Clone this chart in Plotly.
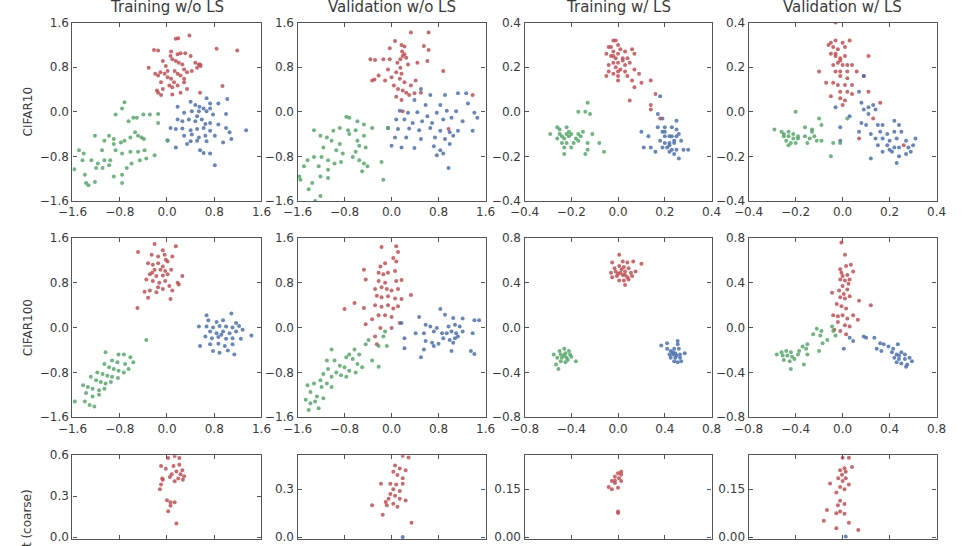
import plotly.graph_objects as go

RED, BLUE, GREEN = "#C44E52", "#4C72B0", "#55A868"

col_titles = ["Training w/o LS", "Validation w/o LS", "Training w/ LS", "Validation w/ LS"]
row_labels = ["CIFAR10", "CIFAR100", "ImageNet (coarse)"]

ticks_16 = [-1.6, -0.8, 0.0, 0.8, 1.6]
ticks_04 = [-0.4, -0.2, 0.0, 0.2, 0.4]
ticks_08 = [-0.8, -0.4, 0.0, 0.4, 0.8]
ticks_r3a = [0.0, 0.3, 0.6]
ticks_r3b = [0.0, 0.15, 0.30]
ticks_r3x = [-0.3, -0.15, 0.0, 0.15, 0.3]

# ---------------- Row 1: CIFAR10 ----------------
p1_red = [(0.15,1.31),(0.19,1.32),(0.38,1.37),(-0.22,1.11),(-0.15,1.10),(0.84,1.13),(1.19,1.10),(-0.31,0.79),
          (0.07,1.08),(0.18,1.03),(0.23,1.05),(0.31,1.05),(0.40,1.00),(0.48,0.88),(0.54,0.85),(0.57,0.82),
          (0.06,1.00),(0.09,0.94),(0.15,0.91),(0.20,0.88),(0.26,0.85),(-0.07,0.91),(-0.02,0.82),(-0.11,0.71),
          (-0.15,0.65),(-0.20,0.68),(-0.04,0.68),(0.01,0.62),(0.07,0.59),(0.12,0.53),(0.18,0.47),(0.23,0.65),
          (0.29,0.59),(0.34,0.71),(0.42,0.73),(0.51,0.79),(0.56,0.85),(0.04,0.47),(0.09,0.44),(-0.10,0.53),
          (-0.07,0.41),(-0.17,0.38),(-0.15,0.34),(-0.10,0.30),(0.09,0.31),(0.23,0.34),(0.56,0.34),(0.94,0.46),
          (0.29,0.53),(0.34,0.41),(0.18,0.68),(0.13,0.73),(0.29,0.76),(0.01,0.73)]
p1_blue = [(0.67,0.24),(0.73,0.15),(0.87,0.15),(1.02,0.23),(0.40,0.18),(0.48,0.12),(0.55,0.09),(0.62,0.06),
           (0.18,0.09),(0.29,-0.02),(0.42,0.01),(0.54,0.01),(0.67,0.01),(0.78,-0.05),(1.00,-0.04),(0.18,-0.14),
           (0.26,-0.17),(0.37,-0.14),(0.48,-0.17),(0.59,-0.14),(0.73,-0.20),(0.87,-0.23),(0.06,-0.29),(0.15,-0.31),
           (0.26,-0.30),(0.40,-0.33),(0.51,-0.31),(0.62,-0.29),(0.73,-0.34),(1.00,-0.29),(1.34,-0.33),(0.29,-0.43),
           (0.42,-0.41),(0.54,-0.46),(0.65,-0.43),(0.81,-0.43),(1.06,-0.37),(1.09,-0.49),(0.01,-0.51),(0.40,-0.53),
           (0.51,-0.52),(0.67,-0.53),(0.15,-0.64),(0.34,-0.58),(0.56,-0.69),(0.62,-0.74),(0.73,-0.75),(0.81,-0.96),
           (0.95,-0.55),(0.73,0.06),(0.51,-0.08),(0.65,-0.22)]
p1_green = [(-0.72,0.17),(-0.76,0.06),(-0.87,-0.05),(-0.65,-0.17),(-0.57,-0.11),(-0.51,-0.11),(-0.40,-0.05),(-0.29,-0.05),
            (-0.15,-0.04),(-0.15,-0.20),(0.01,-0.52),(-0.54,-0.37),(-0.49,-0.43),(-0.43,-0.46),(-0.39,-0.49),(-0.62,-0.46),
            (-0.72,-0.52),(-0.78,-0.55),(-0.90,-0.49),(-0.98,-0.43),(-1.06,-0.52),(-1.22,-0.43),(-0.87,-0.69),(-0.76,-0.75),
            (-0.62,-0.72),(-0.49,-0.72),(-0.38,-0.69),(-0.21,-0.78),(-0.35,-0.84),(-0.46,-0.87),(-0.60,-0.93),(-0.68,-1.01),
            (-0.76,-1.13),(-0.90,-1.16),(-0.76,-1.28),(-0.96,-0.87),(-1.06,-0.87),(-1.17,-0.93),(-1.28,-0.87),(-1.20,-1.01),
            (-1.09,-1.01),(-0.98,-0.96),(-1.41,-0.75),(-1.49,-0.69),(-1.43,-0.87),(-1.57,-1.03),(-1.39,-1.13),(-1.37,-1.28),
            (-1.33,-1.32),(-1.22,-1.26),(-1.10,-0.69),(-0.90,-0.58)]

p2_red = [(0.06,1.27),(0.33,1.42),(0.63,1.42),(0.55,1.18),(0.63,1.11),(-0.03,1.14),(0.17,1.20),(0.22,1.17),
          (-0.36,0.94),(-0.28,0.93),(-0.14,0.94),(-0.03,0.94),(0.19,1.00),(0.22,1.03),(0.25,0.97),(0.15,0.94),
          (0.10,0.88),(0.28,0.85),(0.44,0.88),(0.61,0.91),(0.88,0.73),(-0.06,0.76),(0.08,0.71),(0.17,0.68),
          (-0.22,0.65),(-0.29,0.58),(-0.33,0.56),(-0.11,0.56),(0.00,0.62),(0.14,0.59),(0.22,0.53),(0.41,0.56),
          (0.33,0.47),(0.11,0.41),(0.19,0.38),(0.25,0.34),(0.39,0.33),(0.50,0.34),(0.08,0.27),(0.17,0.21),
          (0.30,0.30),(0.04,0.47),(1.38,0.30),(0.97,-0.31),(0.19,0.01),(0.15,0.79),(0.18,1.08)]
p2_blue = [(0.50,0.41),(0.66,0.30),(0.91,0.30),(1.13,0.33),(1.27,0.33),(0.39,0.21),(0.58,0.12),(0.83,0.12),
           (1.30,0.15),(0.14,0.02),(0.28,-0.02),(0.44,-0.01),(0.61,-0.08),(0.77,-0.02),(0.94,0.02),(1.10,0.01),
           (1.41,-0.02),(1.46,-0.11),(0.08,-0.14),(0.22,-0.14),(0.36,-0.20),(0.52,-0.17),(0.69,-0.20),(0.88,-0.14),
           (1.02,-0.11),(1.21,-0.17),(-0.06,-0.29),(0.11,-0.31),(0.30,-0.30),(0.47,-0.33),(0.66,-0.29),(0.83,-0.34),
           (0.99,-0.37),(1.13,-0.34),(1.38,-0.34),(0.06,-0.46),(0.25,-0.46),(0.50,-0.49),(0.74,-0.46),(0.91,-0.49),
           (1.05,-0.43),(0.00,-0.61),(0.17,-0.64),(0.39,-0.65),(0.72,-0.62),(0.83,-0.69),(0.88,-0.75),(0.97,-1.01),
           (0.77,-0.78),(0.99,-0.58)]
p2_green = [(-0.77,-0.09),(-0.72,-0.11),(-0.58,-0.17),(-0.88,-0.29),(-0.74,-0.33),(-0.61,-0.33),(-0.47,-0.23),(-0.33,-0.29),
            (-0.06,-0.29),(-0.72,-0.40),(-0.99,-0.34),(-1.10,-0.46),(-1.21,-0.43),(-1.32,-0.33),(-1.02,-0.52),(-0.88,-0.58),
            (-0.58,-0.52),(-0.47,-0.43),(-0.55,-0.61),(-0.44,-0.64),(-1.16,-0.64),(-0.94,-0.69),(-0.83,-0.75),(-0.66,-0.81),
            (-0.55,-0.87),(-0.47,-0.93),(-0.41,-0.98),(-0.50,-1.07),(-0.17,-0.90),(-0.14,-1.22),(-1.43,-0.87),(-1.32,-0.81),
            (-1.19,-0.81),(-1.08,-0.87),(-0.97,-0.93),(-1.49,-0.98),(-1.24,-0.98),(-1.08,-1.04),(-1.21,-1.16),(-1.08,-1.19),
            (-1.55,-1.22),(-1.35,-1.28),(-1.41,-1.39),(-1.21,-1.51),(-1.30,-1.60),(-1.57,-1.16),(-0.86,-0.90),(-0.61,-0.72)]

p3_red = [(-0.02,0.32),(-0.01,0.32),(-0.04,0.29),(-0.03,0.29),(0.00,0.30),(0.01,0.28),(0.03,0.27),(0.06,0.28),
          (0.07,0.26),(-0.05,0.26),(-0.03,0.25),(-0.02,0.25),(0.00,0.26),(0.02,0.24),(0.04,0.24),(-0.01,0.24),
          (-0.02,0.22),(0.00,0.22),(0.03,0.21),(0.05,0.22),(-0.04,0.21),(-0.04,0.18),(-0.01,0.20),(0.01,0.19),
          (0.03,0.18),(0.07,0.19),(0.09,0.17),(-0.05,0.16),(-0.02,0.17),(0.00,0.16),(0.04,0.16),(0.06,0.14),
          (0.00,0.14),(0.10,0.13),(0.07,0.11),(0.14,0.14),(0.16,0.08),(0.14,0.03),(0.14,0.01),(0.18,-0.03),
          (0.05,0.05),(-0.02,0.27),(0.02,0.23),(0.00,0.18)]
p3_blue = [(0.18,0.07),(0.17,-0.01),(0.19,-0.03),(0.10,-0.09),(0.13,-0.11),(0.11,-0.16),(0.14,-0.16),(0.16,-0.18),
           (0.17,-0.07),(0.19,-0.09),(0.20,-0.07),(0.23,-0.07),(0.25,-0.08),(0.25,-0.04),(0.20,-0.11),(0.22,-0.11),
           (0.23,-0.11),(0.25,-0.11),(0.18,-0.13),(0.20,-0.14),(0.22,-0.14),(0.24,-0.14),(0.27,-0.13),(0.21,-0.16),
           (0.23,-0.17),(0.25,-0.17),(0.28,-0.17),(0.30,-0.17),(0.24,-0.19),(0.26,-0.21),(0.22,-0.18),(0.20,-0.09),
           (0.24,-0.13),(0.22,-0.15),(0.19,-0.16),(0.26,-0.10)]
p3_green = [(-0.13,0.04),(-0.17,0.00),(-0.14,0.00),(-0.12,-0.01),(-0.29,-0.10),(-0.26,-0.07),(-0.25,-0.08),(-0.22,-0.07),
            (-0.21,-0.09),(-0.25,-0.10),(-0.24,-0.11),(-0.22,-0.10),(-0.20,-0.10),(-0.17,-0.10),(-0.15,-0.09),(-0.26,-0.12),
            (-0.23,-0.12),(-0.21,-0.11),(-0.18,-0.12),(-0.24,-0.14),(-0.22,-0.14),(-0.19,-0.14),(-0.17,-0.13),(-0.23,-0.16),
            (-0.20,-0.16),(-0.23,-0.19),(-0.11,-0.10),(-0.13,-0.14),(-0.14,-0.19),(-0.13,-0.17),(-0.08,-0.14),(-0.06,-0.18),
            (-0.16,-0.11)]

p4_red = [(-0.03,0.40),(-0.06,0.30),(-0.05,0.31),(-0.03,0.32),(0.00,0.31),(0.03,0.32),(-0.04,0.29),(-0.02,0.28),
          (0.01,0.29),(-0.05,0.26),(-0.03,0.25),(-0.01,0.24),(0.01,0.25),(0.11,0.25),(-0.02,0.22),(0.00,0.21),
          (0.02,0.21),(0.04,0.21),(-0.04,0.21),(-0.10,0.18),(-0.03,0.18),(-0.01,0.18),(0.02,0.18),(0.06,0.18),
          (0.09,0.16),(-0.01,0.16),(0.02,0.15),(-0.07,0.13),(-0.04,0.13),(-0.02,0.12),(0.01,0.12),(0.04,0.12),
          (-0.01,0.09),(0.02,0.09),(0.11,0.09),(-0.05,0.07),(-0.01,0.06),(0.01,0.05),(0.04,0.08),(0.00,0.03),
          (0.13,-0.03),(0.16,0.04),(0.07,-0.12),(0.26,-0.15),(-0.03,0.26),(-0.01,0.23)]
p4_blue = [(0.09,0.16),(0.07,0.09),(0.08,0.04),(-0.03,0.02),(0.03,-0.02),(0.09,0.01),(0.11,0.02),(0.13,0.03),
           (0.11,-0.01),(0.14,0.01),(-0.01,-0.07),(-0.01,-0.13),(0.08,-0.05),(0.10,-0.06),(0.07,-0.09),(0.15,-0.06),
           (0.17,-0.06),(0.22,-0.04),(0.24,-0.06),(0.12,-0.10),(0.16,-0.09),(0.19,-0.10),(0.22,-0.09),(0.25,-0.09),
           (0.14,-0.12),(0.17,-0.12),(0.20,-0.13),(0.23,-0.12),(0.27,-0.13),(0.31,-0.12),(0.15,-0.15),(0.19,-0.15),
           (0.22,-0.16),(0.24,-0.16),(0.28,-0.16),(0.30,-0.15),(0.17,-0.18),(0.21,-0.18),(0.27,-0.19),(0.29,-0.18),
           (0.12,-0.21),(0.23,-0.23),(0.24,-0.20),(0.20,-0.17)]
p4_green = [(-0.20,0.00),(-0.10,-0.03),(-0.09,-0.06),(-0.16,-0.07),(-0.13,-0.08),(-0.29,-0.08),(-0.26,-0.09),(-0.25,-0.10),
            (-0.23,-0.09),(-0.21,-0.10),(-0.19,-0.11),(-0.25,-0.11),(-0.23,-0.11),(-0.21,-0.12),(-0.19,-0.12),(-0.16,-0.11),
            (-0.14,-0.12),(-0.12,-0.11),(-0.09,-0.13),(-0.24,-0.13),(-0.22,-0.14),(-0.20,-0.14),(-0.15,-0.14),(-0.11,-0.13),
            (-0.23,-0.15),(-0.04,-0.14),(-0.01,-0.14),(-0.05,-0.20),(0.02,-0.03),(-0.13,-0.09)]

# ---------------- Row 2: CIFAR100 ----------------
p5_red = [(-0.21,1.49),(0.15,1.45),(-0.49,1.35),(-0.07,1.38),(-0.26,1.30),(-0.15,1.27),(-0.04,1.30),(0.09,1.27),
          (-0.32,1.15),(-0.24,1.12),(-0.15,1.15),(-0.07,1.09),(0.01,1.18),(-0.21,1.03),(-0.11,1.03),(-0.03,1.01),
          (0.07,1.03),(-0.29,0.95),(-0.18,0.92),(-0.07,0.93),(0.01,0.95),(0.26,0.92),(-0.35,0.86),(-0.24,0.83),
          (-0.13,0.80),(-0.03,0.83),(0.18,0.80),(0.20,0.77),(-0.15,0.72),(-0.07,0.69),(0.04,0.74),(-0.38,0.64),
          (-0.29,0.66),(-0.18,0.63),(0.06,0.51),(-0.32,0.53),(-0.50,0.35),(-0.02,1.21),(-0.25,0.98),(0.09,0.66)]
p5_blue = [(0.67,0.22),(1.09,0.25),(0.70,0.13),(0.84,0.10),(0.95,0.13),(1.17,0.08),(0.54,0.02),(0.67,0.02),
           (0.78,0.00),(0.89,0.03),(1.00,0.02),(1.11,0.00),(1.22,0.03),(1.28,-0.04),(0.73,-0.07),(0.84,-0.10),
           (0.95,-0.07),(1.06,-0.10),(1.17,-0.07),(1.43,-0.14),(0.65,-0.16),(0.76,-0.19),(0.87,-0.17),(1.00,-0.20),
           (1.11,-0.19),(1.25,-0.20),(0.56,-0.33),(0.73,-0.30),(0.87,-0.29),(0.98,-0.33),(1.11,-0.30),(0.78,-0.42),
           (0.89,-0.45),(1.14,-0.48),(1.03,-0.41),(0.92,-0.13)]
p5_green = [(-0.35,-0.22),(-1.04,-0.44),(-0.82,-0.48),(-0.73,-0.48),(-0.62,-0.53),(-0.57,-0.62),(-0.93,-0.59),(-0.84,-0.62),
            (-0.71,-0.65),(-1.06,-0.65),(-0.98,-0.71),(-0.90,-0.74),(-0.82,-0.77),(-0.73,-0.80),(-0.65,-0.74),(-1.18,-0.80),
            (-1.09,-0.83),(-1.01,-0.86),(-0.93,-0.88),(-0.83,-0.90),(-1.29,-0.88),(-1.20,-0.94),(-1.12,-0.97),(-1.04,-1.00),
            (-0.95,-0.97),(-1.42,-1.03),(-1.34,-1.06),(-1.26,-1.09),(-1.15,-1.12),(-1.06,-1.09),(-1.37,-1.17),(-1.26,-1.23),
            (-1.15,-1.20),(-1.39,-1.32),(-1.31,-1.38),(-1.56,-1.32),(-1.23,-1.41)]

p6_red = [(-0.17,1.44),(0.08,1.45),(0.11,1.35),(-0.47,1.03),(-0.19,1.09),(-0.11,1.15),(0.03,1.24),(0.08,1.18),
          (-0.22,0.98),(-0.14,0.95),(-0.06,0.98),(0.06,1.01),(-0.44,0.86),(-0.22,0.83),(-0.11,0.80),(0.08,0.83),
          (0.17,0.85),(-0.28,0.69),(-0.17,0.72),(-0.08,0.69),(0.00,0.66),(0.11,0.69),(0.33,0.58),(-0.25,0.57),
          (-0.17,0.54),(-0.06,0.56),(0.06,0.52),(0.17,0.51),(-0.63,0.44),(-0.47,0.35),(-0.28,0.40),(-0.17,0.37),
          (-0.06,0.40),(0.03,0.34),(0.11,0.38),(-0.80,0.33),(-0.22,0.22),(-0.11,0.22),(0.00,0.19),(-0.44,0.06),
          (-0.19,-0.01),(0.00,-0.01),(0.14,0.08),(-0.28,-0.16),(-0.25,-0.30),(-0.33,0.15)]
p6_blue = [(0.83,0.33),(0.47,0.19),(0.91,0.23),(1.05,0.17),(1.21,0.16),(1.41,0.13),(1.49,0.13),(0.58,0.05),
           (0.66,0.02),(0.77,-0.01),(0.97,0.02),(1.08,0.05),(1.16,0.02),(0.41,-0.10),(0.55,-0.10),(0.72,-0.07),
           (0.86,-0.10),(0.94,-0.10),(1.02,-0.07),(1.10,-0.10),(1.21,-0.07),(1.38,-0.10),(0.17,0.08),(0.22,-0.19),
           (0.88,-0.19),(0.99,-0.22),(1.08,-0.19),(0.58,-0.24),(0.69,-0.27),(0.80,-0.29),(1.05,-0.27),(0.22,-0.37),
           (0.55,-0.39),(0.72,-0.33),(0.50,-0.53),(1.35,-0.42),(1.41,-0.47),(1.02,-0.42),(1.13,-0.16)]
p6_green = [(-0.11,-0.07),(-0.14,-0.16),(-0.22,-0.33),(-0.08,-0.33),(-0.39,-0.22),(-0.44,-0.30),(-0.33,-0.59),(-0.22,-0.70),
            (-0.63,-0.39),(-0.72,-0.48),(-0.55,-0.48),(-1.02,-0.39),(-0.77,-0.53),(-0.66,-0.56),(-0.58,-0.65),(-0.50,-0.71),
            (-0.97,-0.59),(-0.88,-0.68),(-0.80,-0.71),(-0.72,-0.77),(-0.61,-0.80),(-1.08,-0.74),(-0.94,-0.80),(-0.86,-0.85),
            (-0.77,-0.88),(-1.16,-0.83),(-1.02,-0.88),(-1.21,-0.94),(-1.10,-1.00),(-1.02,-1.06),(-1.32,-1.00),(-1.19,-1.06),
            (-1.43,-1.03),(-1.38,-1.15),(-1.27,-1.23),(-1.16,-1.26),(-1.46,-1.29),(-1.38,-1.35),(-1.30,-1.32),(-1.41,-1.47),
            (-1.24,-1.44),(-1.10,-0.59)]

p7_red = [(0.01,0.65),(-0.05,0.58),(0.04,0.59),(0.08,0.58),(0.13,0.59),(0.20,0.57),(-0.03,0.53),(0.01,0.55),
          (0.05,0.54),(0.09,0.53),(-0.06,0.49),(-0.02,0.50),(0.02,0.49),(0.06,0.50),(0.11,0.49),(0.15,0.50),
          (-0.05,0.45),(-0.01,0.46),(0.04,0.47),(0.08,0.45),(0.12,0.46),(0.01,0.42),(0.05,0.42),(0.09,0.43),
          (0.06,0.38),(0.03,0.52),(0.00,0.48),(0.06,0.47)]
p7_blue = [(0.37,-0.16),(0.42,-0.14),(0.51,-0.12),(0.51,-0.15),(0.42,-0.19),(0.45,-0.21),(0.48,-0.19),(0.52,-0.19),
           (0.44,-0.24),(0.47,-0.24),(0.49,-0.23),(0.53,-0.24),(0.57,-0.23),(0.45,-0.27),(0.49,-0.27),(0.53,-0.27),
           (0.48,-0.30),(0.51,-0.31),(0.54,-0.30),(0.47,-0.22),(0.50,-0.25)]
p7_green = [(-0.55,-0.24),(-0.50,-0.21),(-0.46,-0.19),(-0.42,-0.21),(-0.49,-0.24),(-0.45,-0.23),(-0.41,-0.24),(-0.52,-0.27),
            (-0.48,-0.27),(-0.44,-0.27),(-0.40,-0.26),(-0.49,-0.30),(-0.45,-0.31),(-0.36,-0.30),(-0.51,-0.37),(-0.46,-0.25),
            (-0.43,-0.29),(-0.53,-0.33)]

p8_red = [(-0.01,0.76),(0.02,0.65),(-0.02,0.52),(0.03,0.55),(0.07,0.56),(-0.01,0.49),(0.04,0.47),(0.09,0.50),
          (-0.02,0.43),(0.02,0.42),(0.06,0.43),(0.00,0.37),(0.04,0.34),(-0.03,0.33),(-0.09,0.31),(-0.02,0.27),
          (0.02,0.26),(0.06,0.28),(0.14,0.24),(0.24,0.20),(-0.05,0.21),(-0.01,0.19),(0.03,0.17),(-0.08,0.11),
          (-0.04,0.10),(0.00,0.11),(0.04,0.08),(0.09,0.11),(0.13,0.07),(-0.04,0.05),(0.02,0.02),(0.06,0.01),
          (-0.02,-0.03),(0.03,-0.06),(-0.07,-0.02),(0.00,0.46),(0.05,0.39),(0.01,0.30)]
p8_blue = [(0.06,-0.09),(0.09,-0.12),(0.01,-0.19),(0.18,-0.08),(0.27,-0.09),(0.20,-0.09),(0.32,-0.14),(0.35,-0.15),
           (0.39,-0.17),(0.29,-0.19),(0.43,-0.19),(0.47,-0.15),(0.42,-0.22),(0.46,-0.24),(0.50,-0.22),(0.53,-0.24),
           (0.44,-0.27),(0.48,-0.28),(0.53,-0.28),(0.57,-0.27),(0.46,-0.31),(0.50,-0.32),(0.55,-0.33),(0.59,-0.30),
           (0.54,-0.35),(0.33,-0.21),(0.48,-0.25)]
p8_green = [(-0.22,-0.01),(-0.18,-0.03),(-0.25,-0.06),(-0.19,-0.07),(-0.09,0.01),(-0.08,-0.03),(-0.06,-0.07),(-0.13,-0.11),
            (-0.17,-0.14),(-0.20,-0.21),(-0.30,-0.15),(-0.34,-0.17),(-0.31,-0.19),(-0.37,-0.21),(-0.56,-0.24),(-0.52,-0.22),
            (-0.48,-0.21),(-0.44,-0.22),(-0.51,-0.25),(-0.47,-0.25),(-0.43,-0.26),(-0.38,-0.24),(-0.50,-0.29),(-0.45,-0.30),
            (-0.41,-0.28),(-0.33,-0.33),(-0.44,-0.37),(-0.30,-0.24)]

# ---------------- Row 3: ImageNet (coarse), partly visible ----------------
p9_red = [(0.13,0.595),(0.21,0.58),(0.02,0.58),(-0.10,0.52),(-0.02,0.50),(0.11,0.52),(0.16,0.48),(0.26,0.49),
          (0.23,0.46),(0.08,0.46),(0.29,0.445),(0.19,0.43),(0.05,0.44),(0.13,0.41),(0.27,0.42),(-0.08,0.43),
          (-0.07,0.42),(-0.10,0.385),(-0.12,0.35),(0.00,0.27),(0.06,0.255),(0.13,0.255),(0.06,0.23),(0.02,0.19),
          (0.16,0.10),(0.21,0.53)]
p9_blue = []
p9_green = []
p10_red = [(0.19,0.51),(0.29,0.50),(0.06,0.45),(0.14,0.43),(0.03,0.41),(0.24,0.42),(0.10,0.39),(0.19,0.37),
           (-0.02,0.335),(-0.18,0.335),(0.08,0.33),(0.19,0.335),(0.03,0.30),(0.14,0.29),(-0.02,0.27),(0.06,0.26),
           (-0.05,0.24),(0.14,0.24),(-0.10,0.22),(0.03,0.21),(0.24,0.23),(-0.33,0.20),(-0.08,0.20),(0.10,0.19),
           (-0.15,0.14),(0.34,0.09)]
p10_blue = [(0.19,0.0)]
p10_green = []
p11_red = [(0.00,0.20),(0.01,0.196),(-0.01,0.19),(0.003,0.185),(-0.01,0.178),(0.01,0.176),(-0.02,0.176),(-0.01,0.17),
           (-0.03,0.157),(0.00,0.155),(-0.02,0.15),(0.00,0.08),(0.00,0.076),(0.01,0.205)]
p11_blue = []
p11_green = []
p12_red = [(0.00,0.249),(0.02,0.249),(0.03,0.22),(0.006,0.216),(-0.008,0.21),(0.01,0.205),(-0.002,0.196),(-0.014,0.185),
           (0.01,0.185),(0.00,0.176),(-0.04,0.168),(0.02,0.165),(-0.008,0.157),(0.006,0.15),(-0.02,0.14),(-0.008,0.114),
           (0.006,0.104),(-0.015,0.10),(-0.008,0.08),(-0.05,0.085),(-0.02,0.075),(0.006,0.073),(-0.06,0.051),(0.02,0.045),
           (-0.02,0.028),(0.05,0.022)]
p12_blue = [(0.01,0.002)]
p12_green = []

panels = [
    (p1_red, p1_blue, p1_green), (p2_red, p2_blue, p2_green), (p3_red, p3_blue, p3_green), (p4_red, p4_blue, p4_green),
    (p5_red, p5_blue, p5_green), (p6_red, p6_blue, p6_green), (p7_red, p7_blue, p7_green), (p8_red, p8_blue, p8_green),
    (p9_red, p9_blue, p9_green), (p10_red, p10_blue, p10_green), (p11_red, p11_blue, p11_green), (p12_red, p12_blue, p12_green),
]

# axis settings per panel: (x range, y range, x ticks, y ticks, y tick format)
axis_cfg = [
    ([-1.6, 1.6], [-1.6, 1.6], ticks_16, ticks_16, ".1f"),
    ([-1.6, 1.6], [-1.6, 1.6], ticks_16, ticks_16, ".1f"),
    ([-0.4, 0.4], [-0.4, 0.4], ticks_04, ticks_04, ".1f"),
    ([-0.4, 0.4], [-0.4, 0.4], ticks_04, ticks_04, ".1f"),
    ([-1.6, 1.6], [-1.6, 1.6], ticks_16, ticks_16, ".1f"),
    ([-1.6, 1.6], [-1.6, 1.6], ticks_16, ticks_16, ".1f"),
    ([-0.8, 0.8], [-0.8, 0.8], ticks_08, ticks_08, ".1f"),
    ([-0.8, 0.8], [-0.8, 0.8], ticks_08, ticks_08, ".1f"),
    ([-1.6, 1.6], [-0.0143, 0.6], ticks_16, ticks_r3a, ".1f"),
    ([-1.6, 1.6], [-0.012, 0.514], ticks_16, ticks_r3a, ".1f"),
    ([-0.3, 0.3], [-0.006, 0.257], ticks_r3x, ticks_r3b, ".2f"),
    ([-0.3, 0.3], [-0.006, 0.257], ticks_r3x, ticks_r3b, ".2f"),
]

W, H = 970, 546
col_px = [(59, 253), (290, 483), (523, 715), (753, 946)]
row_px = [(16, 199), (237, 421), (460, 546)]

FONT = "DejaVu Sans"
TXT = "#3a3a3a"
LINE = "#555555"

fig = go.Figure()
layout = {}
for k, (clusters, cfg) in enumerate(zip(panels, axis_cfg)):
    r, c = divmod(k, 4)
    sfx = "" if k == 0 else str(k + 1)
    for pts, color in zip(clusters, [RED, BLUE, GREEN]):
        if not pts:
            continue
        fig.add_trace(go.Scatter(
            x=[p[0] for p in pts], y=[p[1] for p in pts], mode="markers",
            marker=dict(color=color, size=4, opacity=0.85, line=dict(width=0)),
            xaxis="x" + sfx, yaxis="y" + sfx, showlegend=False, hoverinfo="skip"))
    xr, yr, xt, yt, yfmt = cfg
    x0, x1 = col_px[c]
    y0, y1 = row_px[r]
    common = dict(showline=True, linecolor=LINE, linewidth=1.3, mirror="ticks", ticks="inside",
                  ticklen=4, tickcolor=LINE, tickwidth=1, showgrid=False, zeroline=False,
                  tickfont=dict(family=FONT, size=12, color=TXT))
    layout["xaxis" + sfx] = dict(common, domain=[x0 / W, x1 / W], range=xr, tickvals=xt,
                                 tickformat=".1f", anchor="y" + sfx,
                                 showticklabels=(r < 2))
    layout["yaxis" + sfx] = dict(common, domain=[max(0, 1 - y1 / H), 1 - y0 / H], range=yr,
                                 tickvals=yt, tickformat=yfmt, anchor="x" + sfx)

annotations = []
for c, t in enumerate(col_titles):
    x0, x1 = col_px[c]
    annotations.append(dict(text=t, x=(x0 + x1) / 2 / W, y=1 - 11 / H, xref="paper", yref="paper",
                            xanchor="center", yanchor="bottom", showarrow=False,
                            font=dict(family=FONT, size=15, color=TXT)))
for r, lab in enumerate(row_labels):
    y0, y1 = row_px[r]
    if r < 2:
        annotations.append(dict(text=lab, x=13 / W, y=1 - (y0 + y1) / 2 / H, xref="paper", yref="paper",
                                xanchor="center", yanchor="middle", textangle=-90, showarrow=False,
                                font=dict(family=FONT, size=12, color=TXT)))
    else:
        annotations.append(dict(text=lab, x=13 / W, y=1 - 493 / H, xref="paper", yref="paper",
                                xanchor="center", yanchor="top", textangle=-90, showarrow=False,
                                font=dict(family=FONT, size=12, color=TXT)))

fig.update_layout(width=W, height=H, margin=dict(l=0, r=0, t=0, b=0),
                  paper_bgcolor="white", plot_bgcolor="white",
                  annotations=annotations, **layout)

fig.write_html("out.html", config={"displayModeBar": False},
               post_script="document.body.style.margin='0';document.body.style.overflow='hidden';")
